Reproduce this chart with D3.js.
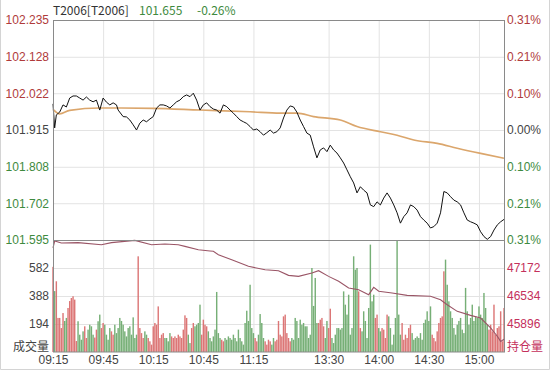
<!DOCTYPE html>
<html><head><meta charset="utf-8">
<script src="https://cdn.jsdelivr.net/npm/d3@7/dist/d3.min.js"></script>
<style>
html,body{margin:0;padding:0;background:#fff;}
svg{display:block;font-family:"Noto Sans CJK SC","Noto Sans",sans-serif;}
</style></head>
<body>
<svg id="chart" width="550" height="370"></svg>
<script>
// ---------- data ----------
const symbol = "T2006[T2006]";
const lastPrice = "101.655";
const lastChange = "-0.26%";
const preClose = 101.915;

const timeLabels = ["09:15","09:45","10:15","10:45","11:15","13:30","14:00","14:30","15:00"];
const timeLabelMinutes = [0,30,60,90,120,165,195,225,255];

const priceTicks = [102.235,102.128,102.022,101.915,101.808,101.702,101.595];
const pctLabels = ["0.31%","0.21%","0.10%","0.00%","0.10%","0.21%","0.31%"];
const volTicks = [582,388,194];
const oiTicks = [47172,46534,45896];

const priceMinutes = [0,1,2,4,6,8,10,12,14,16,18,20,22,24,26,28,30,32,34,36,38,39,42,44,46,48,50,52,54,56,58,60,62,64,66,68,70,72,74,76,78,80,82,84,86,88,90,92,94,96,98,100,102,104,106,108,110,112,114,116,118,120,122,124,126,128,130,132,134,136,138,140,142,144,146,148,150,152,154,156,158,160,162,164,166,168,170,172,174,176,178,180,182,184,186,188,190,192,194,196,198,200,202,204,206,208,210,212,214,216,218,220,222,224,226,228,230,232,234,236,238,240,242,244,246,248,250,252,254,256,258,260,262,264,266,268,270];
const priceValues = [101.991,101.921,101.959,101.967,101.988,101.982,102.008,102.014,102.014,102.008,102.002,102.011,102.002,101.997,102.002,101.973,102.008,101.996,101.988,101.994,101.988,101.973,101.954,101.953,101.944,101.930,101.915,101.935,101.944,101.939,101.947,101.954,101.979,101.988,101.988,101.985,101.979,101.988,101.997,102.002,102.012,102.017,102.012,102.022,102.002,101.973,101.988,101.994,101.983,101.976,101.973,101.964,101.988,101.983,101.973,101.964,101.954,101.944,101.939,101.934,101.925,101.915,101.918,101.910,101.900,101.907,101.915,101.906,101.910,101.921,101.950,101.973,101.985,101.982,101.967,101.944,101.925,101.906,101.900,101.866,101.834,101.857,101.863,101.852,101.871,101.857,101.848,101.834,101.819,101.799,101.779,101.761,101.732,101.750,101.740,101.732,101.697,101.692,101.706,101.697,101.717,101.732,101.717,101.697,101.674,101.644,101.663,101.674,101.697,101.692,101.682,101.663,101.653,101.644,101.630,101.634,101.644,101.674,101.736,101.732,101.721,101.711,101.706,101.697,101.674,101.653,101.648,101.644,101.639,101.619,101.605,101.597,101.605,101.624,101.639,101.648,101.655];

const avgMinutes = [0,4,10,28,60,88,118,136,146,156,172,182,196,206,216,230,242,256,270];
const avgValues = [101.975,101.962,101.972,101.979,101.978,101.973,101.968,101.964,101.964,101.954,101.944,101.925,101.910,101.900,101.886,101.876,101.862,101.847,101.833];

const oiMinutes = [0,1,5,15,29,35,49,59,67,75,79,87,94,96,99,107,117,127,135,141,147,155,159,165,171,177,183,189,192,195,203,212,226,232,236,242,250,256,262,266,268,270];
const oiValues = [47628,47787,47742,47750,47703,47750,47801,47703,47720,47703,47665,47589,47560,47552,47475,47361,47210,47133,47110,47004,46981,47058,47110,46981,46869,46716,46678,46564,46731,46641,46602,46549,46527,46450,46336,46184,46093,46033,45806,45617,45500,45550];

// volume per minute, minute 0 .. 270
const volume = [590,422,490,236,236,166,270,215,236,305,353,374,386,363,76,213,120,85,143,178,97,155,189,178,120,100,155,213,259,166,201,189,120,85,166,143,120,189,131,166,236,215,189,143,108,166,178,120,240,97,120,663,166,131,97,143,120,97,74,51,178,201,189,316,97,120,131,97,97,74,131,108,97,108,97,120,108,97,155,254,236,120,62,166,201,178,189,201,328,120,224,189,178,143,97,74,108,155,416,131,97,85,74,97,85,108,97,85,120,97,74,155,97,74,51,201,286,215,466,166,131,97,74,120,263,201,97,74,51,85,74,51,97,74,85,215,120,108,247,259,131,97,74,97,85,236,215,97,224,189,201,178,178,97,120,582,319,513,201,201,224,236,178,97,215,166,300,97,62,120,166,166,155,166,420,328,259,397,120,166,663,570,582,420,166,143,282,215,97,305,744,351,397,236,259,166,143,166,155,97,259,247,166,51,120,236,770,259,120,201,85,120,97,166,189,131,85,97,108,97,131,85,201,224,282,215,316,120,97,74,143,201,236,247,559,640,466,351,282,236,166,120,189,215,236,155,131,444,282,189,236,328,215,247,236,316,259,236,409,305,189,155,189,143,328,120,166,178,282,74,305];

// ---------- layout ----------
const L = 53, R = 504, T = 20, MID = 240, B = 352;
const svg = d3.select("#chart");
const RED = "#b03b3b", GREEN = "#3e8a3e", GRAY = "#444", OICOL = "#c4305c";

const x = d3.scaleLinear().domain([0,270]).range([L,R]);
const yP = d3.scaleLinear().domain([101.595,102.235]).range([MID,T]);
const yV = d3.scaleLinear().domain([0,776]).range([B,MID]);
const yOI = d3.scaleLinear().domain([45258,47810]).range([B,MID]);

// outer light frame
svg.append("path").attr("d","M0.5,0 V369.5 H549.5 V0").attr("fill","none").attr("stroke","#d4d4d4");

// grid
const gridCol = "#e3e3e3";
svg.append("g").attr("transform",`translate(${L},0)`)
  .call(d3.axisLeft(yP).tickValues(priceTicks.slice(1,-1)).tickSize(-(R-L)).tickFormat(""))
  .call(g=>{g.select(".domain").remove(); g.selectAll("line").attr("stroke",gridCol);});
svg.append("g").attr("transform",`translate(${L},0)`)
  .call(d3.axisLeft(yV).tickValues(volTicks).tickSize(-(R-L)).tickFormat(""))
  .call(g=>{g.select(".domain").remove(); g.selectAll("line").attr("stroke",gridCol);});
svg.append("g").attr("transform",`translate(0,${B})`)
  .call(d3.axisBottom(x).tickValues(timeLabelMinutes.slice(1)).tickSize(-(B-T)).tickFormat(""))
  .call(g=>{g.select(".domain").remove(); g.selectAll("line").attr("stroke",gridCol);});

// volume bars
const bw = Math.max(1,(x(1)-x(0))*0.85);
function isUp(m){
  let i = d3.bisectLeft(priceMinutes, m);
  if (i<=0) return true;
  if (i>=priceMinutes.length) i = priceMinutes.length-1;
  return priceValues[i] >= priceValues[i-1];
}
svg.append("g").selectAll("rect").data(volume).join("rect")
  .attr("x",(d,i)=>x(i)-bw/2).attr("width",bw)
  .attr("y",d=>yV(d)).attr("height",d=>B-yV(d))
  .attr("fill",(d,i)=>isUp(i)?"#d96a6a":"#6aa86a")
  .attr("opacity",0.92);

// OI line
svg.append("path").datum(oiMinutes.map((m,i)=>[m,oiValues[i]]))
  .attr("d",d3.line().x(d=>x(d[0])).y(d=>yOI(d[1])))
  .attr("fill","none").attr("stroke","#9a5566").attr("stroke-width",1.1);

// avg line
svg.append("path").datum(avgMinutes.map((m,i)=>[m,avgValues[i]]))
  .attr("d",d3.line().curve(d3.curveMonotoneX).x(d=>x(d[0])).y(d=>yP(d[1])))
  .attr("fill","none").attr("stroke","#dba66c").attr("stroke-width",1.6);

// price line
svg.append("path").datum(priceMinutes.map((m,i)=>[m,priceValues[i]]))
  .attr("d",d3.line().x(d=>x(d[0])).y(d=>yP(d[1])))
  .attr("fill","none").attr("stroke","#111").attr("stroke-width",1);

// frames
svg.append("rect").attr("x",L+0.5).attr("y",T+0.5).attr("width",R-L).attr("height",B-T-0.5)
  .attr("fill","none").attr("stroke","#8a8a8a");
svg.append("line").attr("x1",L).attr("x2",R).attr("y1",MID+0.5).attr("y2",MID+0.5).attr("stroke","#8a8a8a");

// labels
const priceColor = v => Math.abs(v-preClose)<1e-6 ? GRAY : (v>preClose ? RED : GREEN);
const fs = "12px";
svg.append("g").attr("transform",`translate(${L-4},0)`)
  .call(d3.axisLeft(yP).tickValues(priceTicks).tickSize(0).tickFormat(d3.format(".3f")))
  .call(g=>{g.select(".domain").remove();
    g.selectAll("text").attr("x",0).attr("font-size",fs).attr("font-family",null)
      .attr("fill",d=>priceColor(d));});
svg.append("g").attr("transform",`translate(${R+3},0)`)
  .call(d3.axisRight(yP).tickValues(priceTicks).tickSize(0).tickFormat((d,i)=>pctLabels[i]))
  .call(g=>{g.select(".domain").remove();
    g.selectAll("text").attr("x",0).attr("font-size",fs).attr("font-family",null)
      .attr("fill",d=>priceColor(d));});
svg.append("g").attr("transform",`translate(${L-4},0)`)
  .call(d3.axisLeft(yV).tickValues(volTicks).tickSize(0).tickFormat(d3.format("d")))
  .call(g=>{g.select(".domain").remove();
    g.selectAll("text").attr("x",0).attr("font-size",fs).attr("font-family",null).attr("fill",GRAY);});
svg.append("g").attr("transform",`translate(${R+3},0)`)
  .call(d3.axisRight(yOI).tickValues(oiTicks).tickSize(0).tickFormat(d3.format("d")))
  .call(g=>{g.select(".domain").remove();
    g.selectAll("text").attr("x",0).attr("font-size",fs).attr("font-family",null).attr("fill",OICOL);});
svg.append("text").attr("x",L-4).attr("y",347).attr("dy","0.35em").attr("text-anchor","end")
  .attr("font-size",fs).attr("fill",GRAY).text("成交量");
svg.append("text").attr("x",R+3).attr("y",347).attr("dy","0.35em")
  .attr("font-size",fs).attr("fill",OICOL).text("持仓量");

// bottom time labels
svg.append("g").attr("transform",`translate(0,${B})`)
  .call(d3.axisBottom(x).tickValues(timeLabelMinutes).tickSize(0).tickFormat((d,i)=>timeLabels[i]))
  .call(g=>{g.select(".domain").remove();
    g.selectAll("text").attr("y",8).attr("dy","0.35em").attr("font-size",fs).attr("font-family",null).attr("fill",GRAY);});

// header
const hdr = svg.append("text").attr("y",11).attr("dy","0.35em").attr("font-size",fs);
hdr.append("tspan").attr("x",L).attr("fill","#333").text(symbol);
hdr.append("tspan").attr("x",139).attr("fill",GREEN).text(lastPrice);
hdr.append("tspan").attr("x",197).attr("fill",GREEN).text(lastChange);
</script>
</body></html>
